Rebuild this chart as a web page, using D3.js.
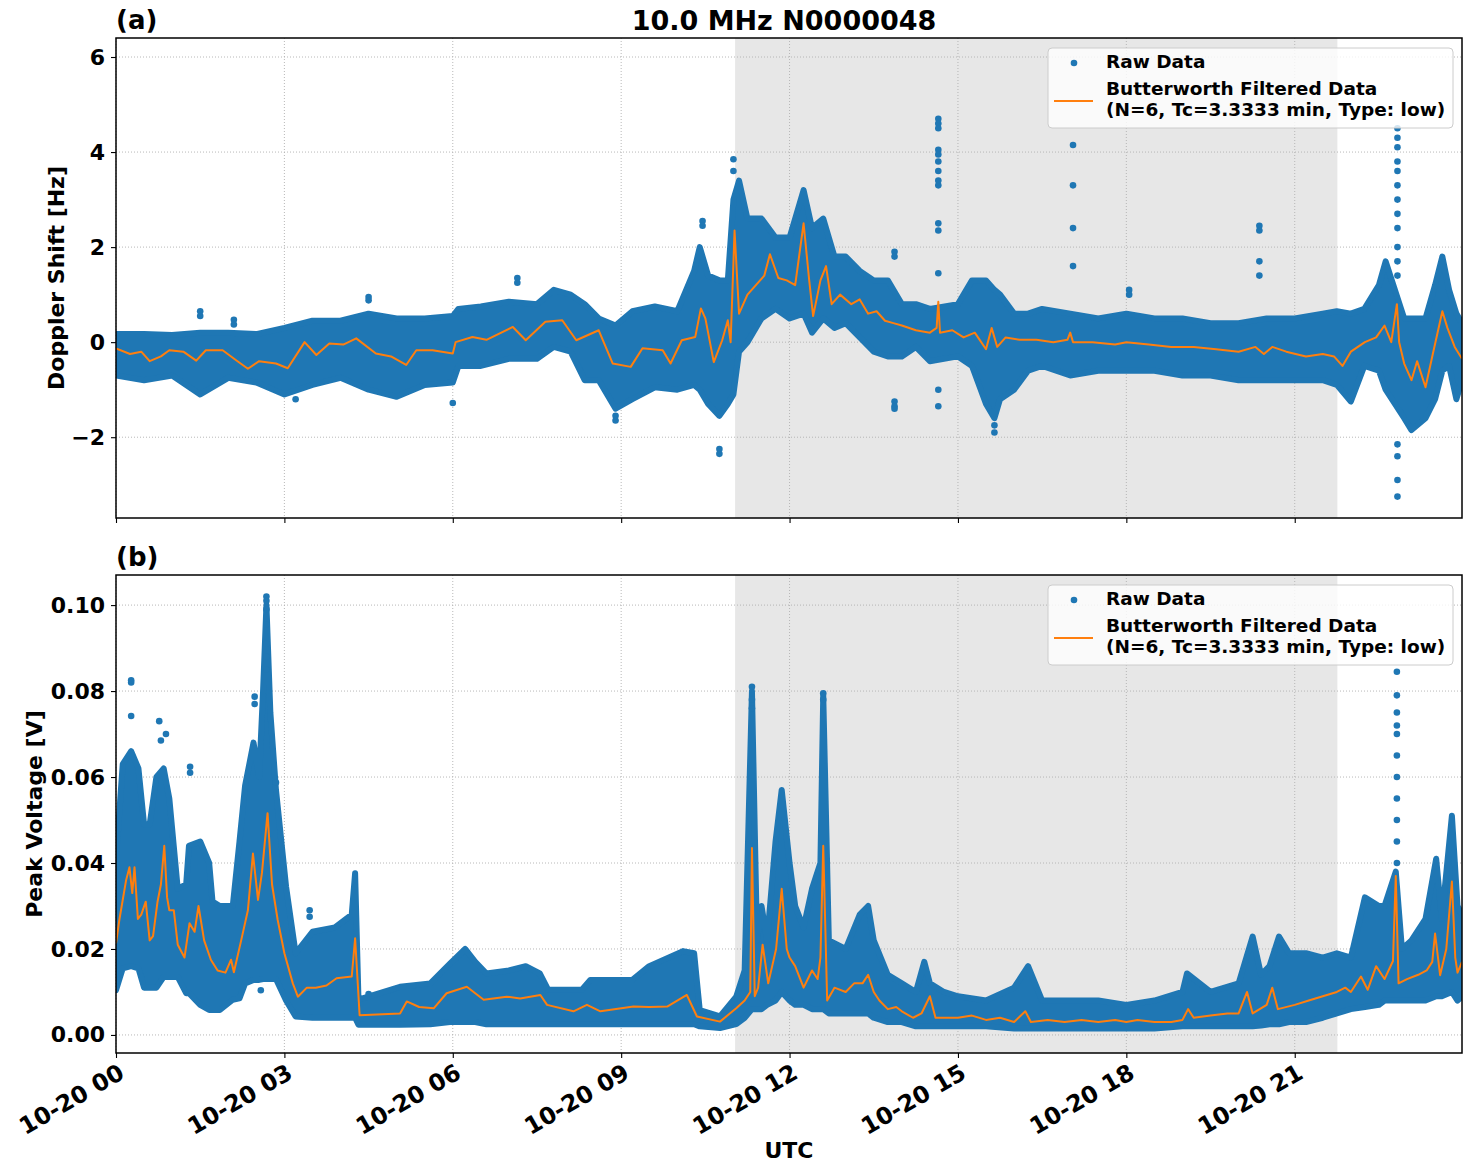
<!DOCTYPE html>
<html>
<head>
<meta charset="utf-8">
<script src="https://cdn.jsdelivr.net/npm/d3@7"></script>
<style>
  body { margin: 0; background: #fff; }
  svg text { font-family: "DejaVu Sans", sans-serif; font-weight: bold; }
</style>
</head>
<body>
<svg id="chart" width="1472" height="1172"></svg>
<script>
// hours after 10-20 00:00 UTC
const dopBandT  = [0,0.5,1,1.5,2,2.5,3,3.5,4,4.5,5,5.5,6,6.1,6.5,7,7.5,7.8,8.1,8.35,8.6,8.9,9.2,9.6,10,10.3,10.4,10.55,10.75,10.9,11,11.1,11.25,11.5,11.75,12,12.25,12.4,12.6,12.8,13,13.25,13.5,13.75,14,14.25,14.5,15,15.25,15.5,15.65,15.75,16,16.25,16.5,17,17.5,18,18.5,19,19.5,20,20.5,21,21.5,21.75,22,22.24,22.5,22.62,22.95,23.08,23.33,23.5,23.63,23.75,23.88,23.98];
const dopBandLo = [-0.7,-0.8,-0.7,-1.1,-0.75,-0.85,-1.1,-0.9,-0.75,-1.0,-1.15,-0.9,-0.85,-0.5,-0.5,-0.35,-0.35,-0.1,-0.2,-0.8,-0.8,-1.4,-1.2,-0.95,-1.0,-0.9,-1.0,-1.3,-1.55,-1.3,-1.1,-0.2,0.0,0.5,0.7,0.5,0.6,0.2,0.5,0.3,0.4,0.1,-0.2,-0.3,-0.3,-0.1,-0.4,-0.3,-0.5,-1.3,-1.6,-1.2,-1.0,-0.6,-0.5,-0.7,-0.6,-0.6,-0.6,-0.7,-0.7,-0.8,-0.8,-0.8,-0.8,-0.9,-1.25,-0.5,-0.6,-1.0,-1.6,-1.85,-1.6,-1.2,-0.6,-0.5,-1.2,-0.8];
const dopBandHi = [0.17,0.17,0.15,0.2,0.2,0.17,0.3,0.45,0.45,0.6,0.5,0.5,0.55,0.7,0.75,0.85,0.8,1.1,1.0,0.8,0.5,0.35,0.65,0.75,0.65,1.5,2.0,1.4,1.3,1.3,3.0,3.4,2.6,2.6,2.2,2.2,3.2,2.4,2.6,1.8,1.8,1.5,1.3,1.3,0.8,0.8,0.7,0.8,1.3,1.3,1.1,1.0,0.6,0.6,0.7,0.6,0.5,0.6,0.5,0.5,0.4,0.4,0.5,0.5,0.6,0.65,0.6,0.7,1.2,1.7,0.5,0.5,0.5,1.2,1.8,1.1,0.6,0.4];

const dopFiltT = [0,0.25,0.45,0.6,0.8,0.95,1.2,1.43,1.6,1.9,2.14,2.35,2.55,2.85,3.06,3.36,3.57,3.8,4.05,4.28,4.63,4.9,5.17,5.35,5.64,6,6.05,6.35,6.6,7.07,7.3,7.65,7.95,8.2,8.6,8.85,9.17,9.38,9.74,9.88,10.08,10.32,10.42,10.5,10.65,10.8,10.9,10.95,11.02,11.1,11.25,11.4,11.55,11.65,11.8,11.95,12.1,12.25,12.35,12.42,12.55,12.65,12.75,12.9,13.1,13.25,13.4,13.55,13.7,13.85,14,14.25,14.5,14.62,14.65,14.68,14.9,15.1,15.3,15.5,15.6,15.7,15.85,16.1,16.4,16.7,16.95,17,17.05,17.4,17.8,18,18.4,18.8,19.2,19.6,20,20.3,20.45,20.6,20.85,21.2,21.5,21.7,21.85,22,22.25,22.45,22.6,22.72,22.82,22.86,22.95,23.08,23.18,23.33,23.45,23.63,23.72,23.85,23.98];
const dopFilt  = [-0.13,-0.25,-0.2,-0.4,-0.3,-0.17,-0.2,-0.39,-0.17,-0.17,-0.38,-0.56,-0.4,-0.45,-0.55,0.0,-0.27,-0.03,-0.05,0.08,-0.24,-0.3,-0.48,-0.17,-0.17,-0.24,0.0,0.11,0.05,0.32,0.04,0.43,0.46,0.04,0.25,-0.45,-0.52,-0.13,-0.17,-0.45,0.04,0.11,0.71,0.5,-0.42,0.04,0.46,0.0,2.35,0.6,1.0,1.2,1.4,1.85,1.35,1.3,1.2,2.5,1.3,0.55,1.3,1.6,0.8,1.0,0.8,0.9,0.6,0.65,0.45,0.4,0.35,0.25,0.2,0.3,0.85,0.2,0.25,0.1,0.2,-0.15,0.3,-0.1,0.1,0.05,0.05,0.0,0.05,0.2,0.0,0.0,-0.05,0.0,-0.05,-0.1,-0.1,-0.15,-0.2,-0.1,-0.25,-0.1,-0.2,-0.3,-0.25,-0.3,-0.5,-0.2,0.0,0.1,0.35,0.0,0.8,0.0,-0.45,-0.8,-0.4,-0.95,-0.3,0.65,0.3,-0.1,-0.35];

const dopOutT = [1.5,1.5,2.1,2.1,4.5,4.5,7.15,7.15,3.2,6.0,8.9,8.9,10.45,10.45,10.75,10.75,11.0,11.0,13.87,13.87,13.87,13.87,13.87,14.65,14.65,14.65,14.65,14.65,14.65,14.65,14.65,14.65,14.65,14.65,14.65,14.65,14.65,15.65,15.65,17.05,17.05,17.05,17.05,18.05,18.05,20.37,20.37,20.37,20.37,22.83,22.83,22.83,22.83,22.83,22.83,22.83,22.83,22.83,22.83,22.83,22.83,22.83,22.83,22.83,22.83];
const dopOutV = [0.65,0.55,0.47,0.37,0.95,0.88,1.35,1.25,-1.2,-1.28,-1.65,-1.55,2.55,2.45,-2.25,-2.35,3.85,3.6,1.9,1.8,-1.25,-1.35,-1.4,4.7,4.6,4.5,4.05,3.95,3.8,3.6,3.4,3.3,2.5,2.35,1.45,-1.0,-1.35,-1.75,-1.9,4.15,3.3,2.4,1.6,1.1,1.0,2.45,2.35,1.7,1.4,4.5,4.3,4.1,3.8,3.6,3.3,3.0,2.7,2.4,2.0,1.7,1.4,-2.15,-2.4,-2.9,-3.25];

const volBandT  = [0,0.12,0.27,0.4,0.5,0.6,0.72,0.85,0.95,1.1,1.25,1.3,1.5,1.66,1.72,1.85,2.08,2.2,2.3,2.45,2.55,2.62,2.68,2.75,2.85,3.03,3.2,3.5,3.9,4.2,4.26,4.32,5.06,5.6,5.95,6.22,6.4,6.6,7,7.3,7.55,7.7,8.3,8.45,9.2,9.5,10.1,10.3,10.4,10.76,11.05,11.2,11.33,11.42,11.5,11.6,11.75,11.86,12,12.1,12.25,12.4,12.55,12.6,12.7,13,13.25,13.4,13.5,13.75,14,14.25,14.4,14.5,14.75,15,15.5,16,16.25,16.5,17,17.5,18,18.5,19,19.08,19.5,20,20.25,20.4,20.55,20.72,20.9,21.2,21.5,21.75,22,22.25,22.5,22.6,22.8,22.91,23.08,23.33,23.52,23.62,23.8,23.9,23.98];
const volBandLo = [0.0104,0.0155,0.016,0.0155,0.011,0.011,0.011,0.0135,0.0135,0.0135,0.0097,0.0097,0.007,0.0058,0.0058,0.0058,0.0082,0.0085,0.012,0.0128,0.0128,0.013,0.013,0.013,0.013,0.008,0.0043,0.004,0.004,0.004,0.004,0.0024,0.0024,0.0025,0.003,0.003,0.003,0.0025,0.0025,0.0025,0.0025,0.0025,0.0025,0.0025,0.0025,0.0025,0.0025,0.0025,0.002,0.0016,0.0025,0.004,0.006,0.006,0.006,0.007,0.008,0.010,0.008,0.007,0.007,0.006,0.006,0.006,0.005,0.005,0.005,0.005,0.004,0.003,0.003,0.002,0.002,0.002,0.002,0.002,0.002,0.0015,0.0015,0.0015,0.0015,0.0015,0.0015,0.0015,0.002,0.002,0.002,0.002,0.002,0.0022,0.0025,0.0025,0.003,0.003,0.004,0.005,0.006,0.0065,0.007,0.008,0.008,0.008,0.008,0.008,0.009,0.009,0.010,0.008,0.009];
const volBandHi = [0.041,0.063,0.066,0.062,0.049,0.049,0.060,0.062,0.055,0.034,0.035,0.044,0.045,0.040,0.031,0.030,0.030,0.045,0.058,0.068,0.060,0.080,0.100,0.075,0.057,0.0345,0.019,0.024,0.025,0.028,0.0376,0.0082,0.0112,0.012,0.0166,0.020,0.017,0.0143,0.015,0.016,0.0143,0.0105,0.0105,0.0128,0.0128,0.016,0.0195,0.019,0.0058,0.0043,0.0089,0.015,0.080,0.022,0.030,0.022,0.045,0.057,0.040,0.030,0.025,0.034,0.040,0.079,0.022,0.020,0.028,0.030,0.022,0.014,0.012,0.010,0.017,0.012,0.010,0.009,0.008,0.011,0.016,0.008,0.008,0.008,0.007,0.008,0.010,0.0143,0.010,0.012,0.0229,0.014,0.016,0.0229,0.019,0.019,0.018,0.019,0.018,0.032,0.030,0.030,0.038,0.020,0.022,0.027,0.041,0.027,0.051,0.030,0.028];

const volFiltT = [0,0.06,0.18,0.24,0.29,0.33,0.39,0.45,0.53,0.6,0.66,0.74,0.8,0.86,0.91,0.95,1.03,1.1,1.22,1.31,1.4,1.47,1.57,1.69,1.81,1.95,2.05,2.1,2.23,2.35,2.44,2.53,2.6,2.7,2.78,2.88,3,3.15,3.24,3.4,3.56,3.75,3.93,4.2,4.26,4.34,5.06,5.18,5.4,5.66,5.89,6.25,6.55,6.96,7.2,7.56,7.68,8.15,8.39,8.63,9.22,9.5,9.82,10.17,10.35,10.76,11.05,11.2,11.3,11.33,11.38,11.44,11.52,11.62,11.76,11.86,11.95,12,12.1,12.25,12.4,12.5,12.55,12.6,12.67,12.8,13,13.15,13.3,13.4,13.5,13.6,13.75,13.9,14,14.2,14.35,14.5,14.6,14.8,15,15.25,15.5,15.75,16,16.2,16.3,16.6,16.9,17.2,17.5,17.8,18,18.2,18.5,18.8,19,19.1,19.2,19.5,19.8,20,20.15,20.25,20.5,20.6,20.7,21,21.25,21.5,21.75,21.9,22,22.18,22.3,22.45,22.6,22.75,22.8,22.85,23,23.2,23.35,23.45,23.5,23.59,23.7,23.8,23.86,23.9,23.98];
const volFilt  = [0.0213,0.0268,0.036,0.039,0.033,0.039,0.027,0.028,0.031,0.022,0.023,0.031,0.035,0.044,0.032,0.029,0.029,0.021,0.018,0.026,0.024,0.030,0.022,0.0175,0.015,0.0145,0.0175,0.0146,0.022,0.029,0.0422,0.0314,0.0377,0.0516,0.035,0.0268,0.019,0.012,0.0089,0.011,0.011,0.0115,0.0132,0.0136,0.0225,0.0046,0.005,0.0078,0.0065,0.0062,0.0097,0.0112,0.0082,0.0089,0.0085,0.0093,0.007,0.0055,0.007,0.0055,0.0066,0.0065,0.0066,0.0093,0.0043,0.0031,0.0062,0.008,0.010,0.0435,0.009,0.011,0.021,0.012,0.020,0.034,0.020,0.018,0.016,0.011,0.015,0.013,0.018,0.044,0.008,0.011,0.010,0.012,0.012,0.014,0.010,0.008,0.006,0.0065,0.0055,0.004,0.005,0.009,0.004,0.004,0.004,0.0045,0.0035,0.004,0.003,0.0055,0.003,0.0035,0.003,0.0035,0.003,0.0035,0.003,0.0035,0.003,0.003,0.0035,0.006,0.004,0.0045,0.005,0.005,0.010,0.005,0.007,0.011,0.006,0.007,0.008,0.009,0.010,0.011,0.010,0.0136,0.0105,0.016,0.013,0.0172,0.037,0.012,0.013,0.014,0.015,0.017,0.0236,0.0139,0.020,0.0357,0.018,0.0145,0.017];

const volOutT = [0.27,0.27,0.27,0.77,0.8,0.89,1.32,1.32,2.47,2.47,2.68,2.68,2.68,2.68,2.68,2.68,2.68,2.85,3.45,3.45,2.58,4.5,11.33,11.33,11.33,12.6,12.6,22.82,22.82,22.82,22.82,22.82,22.82,22.82,22.82,22.82,22.82,22.82];
const volOutV = [0.082,0.0825,0.0742,0.073,0.0685,0.070,0.0624,0.061,0.0787,0.077,0.102,0.101,0.099,0.0955,0.091,0.088,0.085,0.0587,0.029,0.0275,0.0104,0.0095,0.081,0.078,0.076,0.0795,0.078,0.0845,0.079,0.075,0.072,0.070,0.065,0.060,0.055,0.050,0.045,0.040];

const xTickHours = [0,3,6,9,12,15,18,21];
const dopTicks = [-2,0,2,4,6];
const volTicks = [0,0.02,0.04,0.06,0.08,0.10];
const shadeStart = 11.03, shadeEnd = 21.76;

const blue = "#1f77b4", orange = "#ff7f0e";
const svg = d3.select("#chart");
const left = 116, right = 1462;

const t0 = Date.UTC(2023, 9, 20);
const toDate = h => new Date(t0 + h * 3600e3);
const x = d3.scaleUtc().domain([toDate(0), toDate(23.98)]).range([left, right]);

function panel(cfg) {
  const {top, bottom, yDomain, ticks, fmt, bandT, lo, hi, filtT, filt, outT, outV, label, tag, id} = cfg;
  const y = d3.scaleLinear().domain(yDomain).range([bottom, top]);

  svg.append("clipPath").attr("id", id)
    .append("rect").attr("x", left).attr("y", top).attr("width", right - left).attr("height", bottom - top);

  const g = svg.append("g");
  g.append("rect")
    .attr("x", x(toDate(shadeStart))).attr("y", top)
    .attr("width", x(toDate(shadeEnd)) - x(toDate(shadeStart)))
    .attr("height", bottom - top)
    .attr("fill", "#e7e7e7");

  // grid
  g.selectAll(".gx").data(xTickHours).join("line")
    .attr("x1", d => x(toDate(d))).attr("x2", d => x(toDate(d)))
    .attr("y1", top).attr("y2", bottom)
    .attr("stroke", "#b0b0b0").attr("stroke-width", 0.9).attr("stroke-dasharray", "1,2");
  g.selectAll(".gy").data(ticks).join("line")
    .attr("x1", left).attr("x2", right)
    .attr("y1", d => y(d)).attr("y2", d => y(d))
    .attr("stroke", "#b0b0b0").attr("stroke-width", 0.9).attr("stroke-dasharray", "1,2");

  const data = g.append("g").attr("clip-path", `url(#${id})`);
  const band = bandT.map((t, i) => ({t, lo: lo[i], hi: hi[i]}));
  data.append("path")
    .datum(band)
    .attr("d", d3.area().x(d => x(toDate(d.t))).y0(d => y(d.lo)).y1(d => y(d.hi)))
    .attr("fill", blue).attr("stroke", blue).attr("stroke-width", 6).attr("stroke-linejoin", "round");

  data.selectAll("circle").data(outT.map((t, i) => [t, outV[i]])).join("circle")
    .attr("cx", d => x(toDate(d[0]))).attr("cy", d => y(d[1])).attr("r", 3.3)
    .attr("fill", blue);

  data.append("path")
    .datum(filtT.map((t, i) => [t, filt[i]]))
    .attr("d", d3.line().x(d => x(toDate(d[0]))).y(d => y(d[1])))
    .attr("fill", "none").attr("stroke", orange).attr("stroke-width", 2).attr("stroke-linejoin", "round");

  // axes
  const ya = svg.append("g").attr("transform", `translate(${left},0)`)
    .call(d3.axisLeft(y).tickValues(ticks).tickFormat(fmt).tickSize(5).tickPadding(6));
  const xa = svg.append("g").attr("transform", `translate(0,${bottom})`)
    .call(d3.axisBottom(x).tickValues(xTickHours.map(toDate)).tickSize(5).tickFormat(""));
  [ya, xa].forEach(a => {
    a.select(".domain").remove();
    a.selectAll("line").attr("stroke", "#000").attr("stroke-width", 1.1);
    a.selectAll("text").attr("font-size", 22).attr("fill", "#000")
      .style("font-family", "DejaVu Sans").style("font-weight", "bold");
  });

  svg.append("rect").attr("x", left).attr("y", top).attr("width", right - left).attr("height", bottom - top)
    .attr("fill", "none").attr("stroke", "#000").attr("stroke-width", 1.5);

  svg.append("text").attr("x", left).attr("y", top - 9).attr("font-size", 26).text(tag);

  svg.append("text")
    .attr("transform", `translate(${cfg.labelX},${(top + bottom) / 2}) rotate(-90)`)
    .attr("text-anchor", "middle").attr("font-size", 22).text(label);

  // legend
  const lg = svg.append("g").attr("transform", `translate(1048,${top + 10})`);
  lg.append("rect").attr("width", 405).attr("height", 80).attr("rx", 4)
    .attr("fill", "#fff").attr("fill-opacity", 0.8).attr("stroke", "#cccccc").attr("stroke-width", 1);
  lg.append("circle").attr("cx", 26).attr("cy", 15).attr("r", 3.3).attr("fill", blue);
  lg.append("line").attr("x1", 6).attr("x2", 45).attr("y1", 53).attr("y2", 53)
    .attr("stroke", orange).attr("stroke-width", 2);
  const lt = [["Raw Data", 20], ["Butterworth Filtered Data", 47], ["(N=6, Tc=3.3333 min, Type: low)", 68]];
  lg.selectAll("text").data(lt).join("text")
    .attr("x", 58).attr("y", d => d[1]).attr("font-size", 18.5).text(d => d[0]);

  return y;
}

panel({id: "clipA", top: 38, bottom: 518, yDomain: [-3.7, 6.4], ticks: dopTicks,
  fmt: d => d3.format("d")(d).replace("-", "\u2212"),
  bandT: dopBandT, lo: dopBandLo, hi: dopBandHi, filtT: dopFiltT, filt: dopFilt,
  outT: dopOutT, outV: dopOutV, label: "Doppler Shift [Hz]", tag: "(a)", labelX: 64});

panel({id: "clipB", top: 575, bottom: 1053, yDomain: [-0.0042, 0.1070], ticks: volTicks,
  fmt: d3.format(".2f"),
  bandT: volBandT, lo: volBandLo, hi: volBandHi, filtT: volFiltT, filt: volFilt,
  outT: volOutT, outV: volOutV, label: "Peak Voltage [V]", tag: "(b)", labelX: 42});

// x tick labels, rotated like autofmt_xdate
svg.append("g").selectAll("text").data(xTickHours).join("text")
  .attr("transform", d => `translate(${x(toDate(d)) + 1},${1062}) rotate(-30)`)
  .attr("text-anchor", "end").attr("dy", "0.75em").attr("font-size", 23.5)
  .text(d => d3.utcFormat("%m-%d %H")(toDate(d)));

svg.append("text").attr("x", 789).attr("y", 1158).attr("text-anchor", "middle")
  .attr("font-size", 22).text("UTC");

svg.append("text").attr("x", 784).attr("y", 30).attr("text-anchor", "middle")
  .attr("font-size", 27).text("10.0 MHz N0000048");
</script>
</body>
</html>
